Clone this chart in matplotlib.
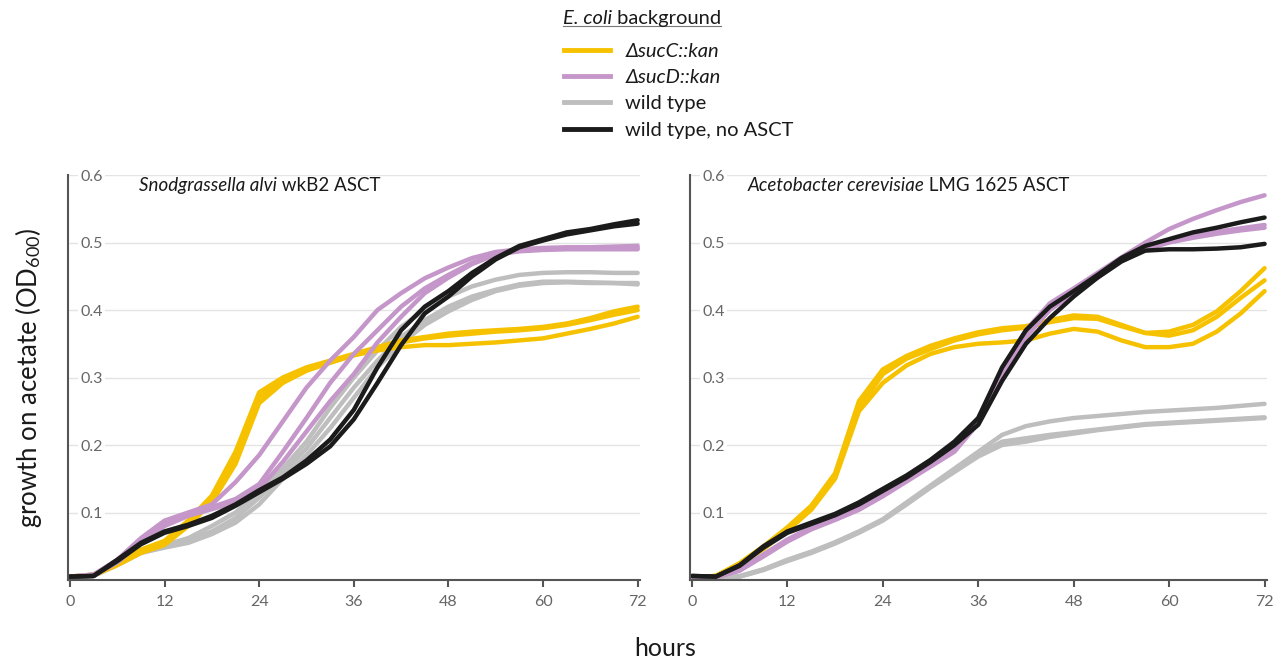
import matplotlib
matplotlib.use("Agg")
import matplotlib.pyplot as plt
from matplotlib.lines import Line2D

# ─ DATA (every 3 h) ─
hours = list(range(0, 73, 3))

# Snodgrassella alvi wkB2 ASCT
sa_sucC = [
    [.005, .008, .025, .045, .058, .088, .125, .190, .278, .300, .315, .325, .335, .345, .355, .360, .365, .368, .370, .372, .375, .380, .388, .398, .405],
    [.005, .008, .025, .042, .055, .084, .120, .180, .270, .296, .312, .322, .333, .343, .352, .358, .362, .365, .368, .370, .373, .378, .385, .393, .400],
    [.004, .007, .022, .040, .052, .080, .115, .172, .262, .292, .310, .322, .333, .340, .345, .348, .348, .350, .352, .355, .358, .365, .372, .380, .390],
]
sa_sucD = [
    [.005, .008, .030, .062, .088, .100, .112, .145, .185, .235, .285, .325, .360, .400, .425, .447, .463, .477, .486, .490, .492, .493, .493, .494, .495],
    [.005, .008, .028, .058, .082, .098, .108, .120, .142, .190, .240, .292, .335, .370, .405, .432, .452, .470, .482, .488, .490, .491, .492, .492, .492],
    [.004, .007, .026, .055, .080, .095, .105, .115, .135, .175, .220, .265, .305, .352, .390, .425, .448, .468, .482, .487, .489, .490, .490, .490, .490],
]
sa_wt = [
    [.004, .006, .025, .045, .052, .062, .080, .100, .130, .165, .205, .255, .300, .340, .375, .400, .420, .435, .445, .452, .455, .456, .456, .455, .455],
    [.004, .006, .024, .043, .050, .058, .072, .092, .122, .158, .195, .240, .285, .325, .360, .385, .405, .420, .430, .438, .442, .442, .441, .440, .440],
    [.004, .006, .022, .040, .048, .055, .068, .085, .112, .150, .185, .225, .270, .315, .350, .378, .398, .415, .428, .436, .440, .441, .440, .440, .438],
]
sa_noasct = [
    [.005, .006, .030, .055, .072, .082, .095, .112, .133, .152, .177, .208, .252, .315, .370, .405, .428, .455, .477, .495, .505, .515, .520, .527, .533],
    [.005, .006, .028, .053, .070, .080, .092, .110, .130, .150, .172, .198, .238, .292, .348, .395, .420, .450, .475, .493, .503, .512, .518, .524, .528],
]

# Acetobacter cerevisiae LMG 1625 ASCT
ac_sucC = [
    [.004, .006, .025, .050, .078, .110, .158, .265, .312, .332, .347, .358, .367, .373, .376, .385, .392, .390, .378, .366, .368, .378, .398, .428, .462],
    [.004, .006, .024, .048, .075, .107, .153, .255, .305, .328, .342, .355, .364, .370, .374, .382, .388, .387, .376, .366, .362, .370, .390, .418, .444],
    [.004, .006, .023, .046, .073, .104, .150, .250, .292, .318, .335, .345, .350, .352, .355, .365, .372, .368, .355, .345, .345, .350, .368, .395, .428],
]
ac_sucD = [
    [.003, .004, .015, .038, .060, .078, .092, .108, .128, .150, .172, .196, .240, .310, .370, .410, .432, .455, .478, .500, .520, .535, .548, .560, .570],
    [.003, .004, .014, .036, .058, .076, .090, .105, .125, .148, .170, .193, .235, .305, .365, .405, .428, .450, .474, .492, .503, .510, .516, .521, .526],
    [.003, .004, .014, .035, .057, .075, .089, .104, .124, .146, .168, .190, .232, .300, .360, .400, .425, .448, .472, .490, .500, .507, .513, .518, .522],
]
ac_wt = [
    [.002, .002, .006, .016, .030, .042, .056, .072, .090, .115, .140, .165, .190, .215, .228, .235, .240, .243, .246, .249, .251, .253, .255, .258, .261],
    [.002, .002, .005, .015, .028, .040, .054, .070, .088, .112, .137, .160, .183, .200, .205, .212, .217, .222, .226, .230, .232, .234, .236, .238, .240],
    [.002, .002, .005, .015, .029, .041, .055, .071, .089, .113, .138, .162, .186, .205, .210, .215, .219, .223, .227, .231, .233, .235, .237, .239, .241],
]
ac_noasct = [
    [.006, .005, .022, .050, .072, .085, .098, .115, .135, .155, .178, .205, .240, .315, .370, .405, .428, .452, .477, .495, .505, .515, .522, .530, .537],
    [.006, .005, .021, .048, .070, .083, .096, .112, .132, .152, .175, .200, .230, .295, .350, .388, .420, .448, .472, .488, .490, .490, .491, .493, .498],
]

labels = ["ΔsucC::kan", "ΔsucD::kan", "wild type", "wild type, no ASCT"]
colors = ["#F6C200", "#C596C9", "#BEBEBE", "#1B1B1B"]
panel_titles = [("Snodgrassella alvi", " wkB2 ASCT"),
                ("Acetobacter cerevisiae", " LMG 1625 ASCT")]
xticks = [0, 12, 24, 36, 48, 60, 72]
yticks = [0.1, 0.2, 0.3, 0.4, 0.5, 0.6]

# ─ STYLE ─
plt.rcParams["font.family"] = ["Lato", "DejaVu Sans"]
plt.rcParams["mathtext.fontset"] = "custom"
plt.rcParams["mathtext.rm"] = "Lato"
plt.rcParams["mathtext.it"] = "Lato:italic"
INK = "#1a1a1a"

fig = plt.figure(figsize=(12.8, 6.6), dpi=100)
ax1 = fig.add_axes([0.0531, 0.1212, 0.4469, 0.6136])
ax2 = fig.add_axes([0.5390, 0.1212, 0.4508, 0.6136])


def italic_then_plain(x, y, it_part, plain_part, size, transform):
    # italic words followed by upright words on the same baseline
    t1 = fig.text(x, y, it_part, fontsize=size, fontstyle="italic", color=INK,
                  ha="left", va="bottom", transform=transform)
    t2 = fig.text(0, 0, plain_part, fontsize=size, color=INK, ha="left",
                  va="bottom", transform=None)
    fig.canvas.draw()
    bb = t1.get_window_extent(fig.canvas.get_renderer())
    t2.set_position((bb.x1, bb.y0))
    return t1, bb


panels = [
    (ax1, [sa_sucC, sa_sucD, sa_wt, sa_noasct], panel_titles[0], 0.125),
    (ax2, [ac_sucC, ac_sucD, ac_wt, ac_noasct], panel_titles[1], 0.10),
]
draw_order = [2, 0, 1, 3]  # gray, yellow, purple, black

for ax, groups, title, tx in panels:
    for k in draw_order:
        for rep in groups[k]:
            ax.plot(hours, rep, color=colors[k], lw=3.2, solid_capstyle="round")
    ax.set_xlim(-0.25, 72.3)
    ax.set_ylim(0, 0.6)
    ax.set_xticks(xticks)
    ax.set_yticks(yticks)
    ax.set_yticklabels([f"{v:.1f}" for v in yticks])
    ax.grid(axis="y", color="#E4E4E4", lw=1.0)
    ax.set_axisbelow(True)
    for s in ["top", "right"]:
        ax.spines[s].set_visible(False)
    for s in ["left", "bottom"]:
        ax.spines[s].set_color("#555555")
        ax.spines[s].set_linewidth(1.5)
    ax.tick_params(axis="x", length=5, width=1.5, color="#555555",
                   labelcolor="#666666", labelsize=11.5, pad=6)
    ax.tick_params(axis="y", length=0, pad=-9, labelcolor="#666666", labelsize=11.5)
    for lbl in ax.get_yticklabels():
        lbl.set_horizontalalignment("left")
        lbl.set_bbox(dict(facecolor="white", edgecolor="none", pad=1.5))
    italic_then_plain(tx, 0.952, title[0], title[1], 13.5, ax.transAxes)

ax1.set_ylabel(r"growth on acetate (OD$_{\mathregular{600}}$)", fontsize=18.5,
               color=INK, labelpad=17)
fig.text(665 / 1280, 1 - 648 / 660, "hours", fontsize=18, ha="center",
         va="center", color=INK)

# ─ LEGEND ─
handles = [Line2D([], [], color=c, lw=3.5) for c in colors]
leg = fig.legend(handles, labels, loc="upper left",
                 bbox_to_anchor=(564 / 1280, 1 - 43 / 660), frameon=False,
                 fontsize=14.5, handlelength=2.3, handletextpad=0.75,
                 labelspacing=0.45, borderpad=0, borderaxespad=0)
for txt in leg.get_texts()[:2]:
    txt.set_fontstyle("italic")
for txt in leg.get_texts():
    txt.set_color(INK)

_, tb = italic_then_plain(563 / 1280, 1 - 27 / 660, "E. coli", " background",
                          14.5, fig.transFigure)
fig.canvas.draw()
full_w = tb.width + fig.texts[-1].get_window_extent(fig.canvas.get_renderer()).width
uy = (tb.y0 + 1) / fig.bbox.height
fig.add_artist(Line2D([tb.x0 / fig.bbox.width, (tb.x0 + full_w) / fig.bbox.width],
                      [uy, uy], transform=fig.transFigure, color="#777777", lw=0.8))

fig.savefig("out.png", dpi=100)
